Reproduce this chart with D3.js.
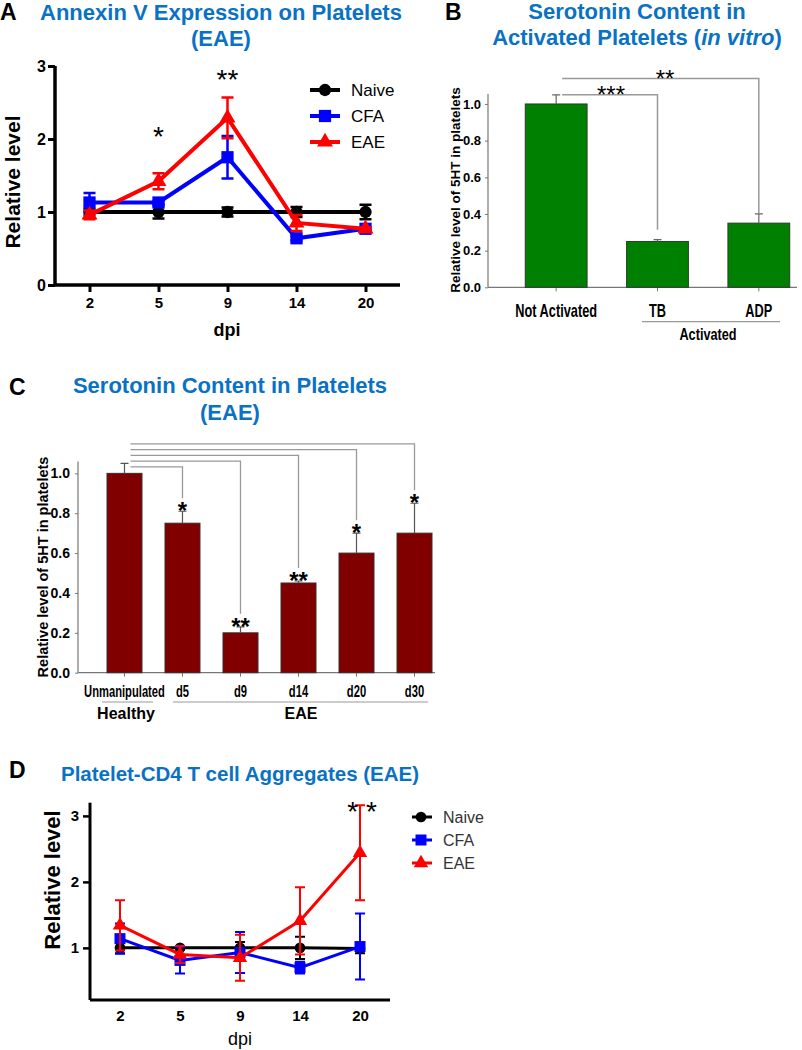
<!DOCTYPE html>
<html><head><meta charset="utf-8">
<script src="https://cdn.jsdelivr.net/npm/d3@7"></script>
<style>body{margin:0;background:#fff} svg{display:block}</style>
</head><body>
<svg id="c" width="802" height="1050"></svg>
<script>
// ---------- Panel A: Annexin V expression ----------
const dpi = ["2","5","9","14","20"];
const annexNaive = [1.00,1.00,1.00,1.00,1.00];
const annexNaiveErr = [0.04,0.09,0.06,0.07,0.10];
const annexCFA = [1.13,1.13,1.75,0.64,0.77];
const annexCFAErr = [0.13,0.02,0.29,0.03,0.02];
const annexEAE = [0.96,1.42,2.29,0.85,0.77];
const annexEAEErr = [0.06,0.11,0.28,0.11,0.02];
const annexStars = ["","*","**","",""];
const annexTicks = [0,1,2,3];

// ---------- Panel B: serotonin in vitro ----------
const vitroCats = ["Not Activated","TB","ADP"];
const vitroVals = [1.00,0.25,0.35];
const vitroErr = [0.05,0.01,0.05];
const vitroTicks = [0,0.2,0.4,0.6,0.8,1.0];
const vitroSigTo = ["TB","ADP"];
const vitroSigLabel = ["***","**"];

// ---------- Panel C: serotonin EAE ----------
const eaeCats = ["Unmanipulated","d5","d9","d14","d20","d30"];
const eaeVals = [1.00,0.75,0.20,0.45,0.60,0.70];
const eaeErr = [0.05,0.06,0.03,0.01,0.10,0.15];
const eaeStars = ["","*","**","**","*","*"];
const eaeTicks = [0,0.2,0.4,0.6,0.8,1.0];

// ---------- Panel D: platelet-CD4 aggregates ----------
const aggNaive = [1.00,1.00,1.00,1.00,0.99];
const aggNaiveErr = [0.08,0.03,0.09,0.17,0.07];
const aggCFA = [1.14,0.81,0.93,0.70,1.02];
const aggCFAErr = [0.23,0.20,0.31,0.09,0.50];
const aggEAE = [1.34,0.90,0.85,1.41,2.44];
const aggEAEErr = [0.38,0.13,0.35,0.51,0.72];
const aggStars = ["","","","","**"];
const aggTicks = [1,2,3];

const seriesNames = ["Naive","CFA","EAE"];
const seriesColors = ["#000000","#0000ff","#ff0000"];
const seriesSymbols = [d3.symbolCircle, d3.symbolSquare, d3.symbolTriangle];

const BLUE = "#0a72c4";
const SANS = "'Liberation Sans', Arial, sans-serif";

const svg = d3.select("#c");

function txt(g, x, y, s, o) {
  o = o || {};
  const t = g.append("text").text(s)
    .attr("font-family", SANS)
    .attr("font-size", o.size || 14)
    .attr("font-weight", o.weight || "bold")
    .attr("fill", o.fill || "#000")
    .attr("text-anchor", o.anchor || "middle");
  if (o.rotate) t.attr("x", x).attr("y", y).attr("transform", `rotate(-90,${x},${y})`);
  else if (o.squeeze) t.attr("x", 0).attr("y", 0).attr("transform", `translate(${x},${y}) scale(${o.squeeze},1)`);
  else t.attr("x", x).attr("y", y);
  return t;
}

// ============ PANEL A ============
(function(){
  const g = svg.append("g");
  const x = d3.scalePoint().domain(dpi).range([55, 400]).padding(0.5);
  const y = d3.scaleLinear().domain([0,3]).range([285, 66]);
  txt(g, 0, 20, "A", {size: 23, anchor: "start"});
  txt(g, 221, 20, "Annexin V Expression on Platelets", {size: 22, fill: BLUE});
  txt(g, 221, 46, "(EAE)", {size: 22, fill: BLUE});

  const ya = g.append("g").attr("transform","translate(55,0)")
    .call(d3.axisLeft(y).tickValues(annexTicks).tickFormat(d3.format("d")).tickSize(7).tickPadding(2));
  const xa = g.append("g").attr("transform","translate(0,285)")
    .call(d3.axisBottom(x).tickSize(7).tickPadding(5));
  [ya, xa].forEach(a => {
    a.select(".domain").attr("stroke","#000").attr("stroke-width",3.5);
    a.selectAll(".tick line").attr("stroke","#000").attr("stroke-width",3);
    a.selectAll("text").attr("font-family",SANS).attr("font-weight","bold").attr("fill","#000");
  });
  ya.selectAll("text").attr("font-size",16);
  xa.selectAll("text").attr("font-size",15);
  xa.select(".domain").attr("d","M55,0H400");
  ya.select(".domain").attr("d","M0,285V66");
  txt(g, 227, 336, "dpi", {size: 18});
  txt(g, 20, 182, "Relative level", {size: 21, rotate: true});

  const vals = [annexNaive, annexCFA, annexEAE];
  const errs = [annexNaiveErr, annexCFAErr, annexEAEErr];
  const sizes = [120, 150, 110];
  vals.forEach((v, si) => {
    const c = seriesColors[si];
    const gg = g.append("g");
    gg.append("path").datum(v)
      .attr("d", d3.line().x((d,i)=>x(dpi[i])).y(d=>y(d)))
      .attr("fill","none").attr("stroke",c).attr("stroke-width",4);
    v.forEach((d,i) => {
      const cx = x(dpi[i]), e = errs[si][i];
      gg.append("path").attr("d",`M${cx},${y(d-e)}V${y(d+e)}M${cx-6},${y(d+e)}H${cx+6}M${cx-6},${y(d-e)}H${cx+6}`)
        .attr("stroke",c).attr("stroke-width",2.5).attr("fill","none");
      gg.append("path").attr("d", d3.symbol(seriesSymbols[si], sizes[si])())
        .attr("transform",`translate(${cx},${y(d)})`).attr("fill",c);
    });
  });
  annexStars.forEach((s,i) => {
    if (!s) return;
    const top = annexEAE[i]+annexEAEErr[i];
    txt(g, x(dpi[i]), y(top) - (s.length>1 ? 8 : 27), s, {size: 28, weight: "normal"});
  });
  // legend
  seriesNames.forEach((n, si) => {
    const ly = 90 + si*26;
    g.append("line").attr("x1",310).attr("x2",340).attr("y1",ly).attr("y2",ly)
      .attr("stroke",seriesColors[si]).attr("stroke-width",4);
    g.append("path").attr("d", d3.symbol(seriesSymbols[si], sizes[si])())
      .attr("transform",`translate(325,${ly})`).attr("fill",seriesColors[si]);
    txt(g, 351, ly+6, n, {size: 17, weight: "normal", anchor: "start"});
  });
})();

// ============ PANEL B ============
(function(){
  const g = svg.append("g");
  const x = d3.scaleBand().domain(vitroCats).range([505, 810]).paddingInner(0.39).paddingOuter(0.2);
  const y = d3.scaleLinear().domain([0,1.05]).range([287.3, 94.8]);
  txt(g, 445, 20, "B", {size: 23, anchor: "start"});
  txt(g, 637, 19, "Serotonin Content in", {size: 22, fill: BLUE});
  const t2 = txt(g, 637, 45, "", {size: 22, fill: BLUE});
  t2.append("tspan").text("Activated Platelets (");
  t2.append("tspan").text("in vitro").attr("font-style","italic");
  t2.append("tspan").text(")");

  const ya = g.append("g").attr("transform","translate(488,0)")
    .call(d3.axisLeft(y).tickValues(vitroTicks).tickFormat(d3.format(".1f")).tickSize(3).tickPadding(4));
  const xa = g.append("g").attr("transform","translate(0,287.3)")
    .call(d3.axisBottom(x).tickSize(4).tickFormat(""));
  [ya, xa].forEach(a => {
    a.select(".domain").attr("stroke","#777").attr("stroke-width",1.2);
    a.selectAll(".tick line").attr("stroke","#777");
  });
  xa.select(".domain").attr("d","M488,0H797");
  ya.select(".domain").attr("d","M0,287.3V94");
  ya.selectAll("text").attr("font-family",SANS).attr("font-weight","bold").attr("font-size",13).attr("fill","#000");
  txt(g, 460, 190, "Relative level of 5HT in platelets", {size: 13.5, rotate: true});

  vitroCats.forEach((c,i) => {
    const cx = x(c) + x.bandwidth()/2;
    g.append("rect").attr("x", x(c)).attr("width", x.bandwidth())
      .attr("y", y(vitroVals[i])).attr("height", y(0)-y(vitroVals[i]))
      .attr("fill","#008000").attr("stroke","#2d3a2d").attr("stroke-width",1);
    const top = y(vitroVals[i]+vitroErr[i]);
    g.append("path").attr("d",`M${cx},${y(vitroVals[i])}V${top}M${cx-4},${top}H${cx+4}`)
      .attr("stroke","#666").attr("stroke-width",1.2);
    txt(g, cx, 317, c, {size: 18, squeeze: 0.71});
  });
  g.append("line").attr("x1",642).attr("x2",780).attr("y1",321.7).attr("y2",321.7).attr("stroke","#999").attr("stroke-width",1.2);
  txt(g, 708, 340, "Activated", {size: 16.5, squeeze: 0.77});

  // brackets
  const x0 = x(vitroCats[0]) + x.bandwidth()/2 + 6;
  vitroSigTo.forEach((to,k) => {
    const i = vitroCats.indexOf(to);
    const cx = x(to) + x.bandwidth()/2;
    const ly = y(vitroVals[0]+vitroErr[0]) - k*16.4;
    const end = y(vitroVals[i]+vitroErr[i]) - (k===0 ? 10 : 1);
    g.append("path").attr("d",`M${x0},${ly}H${cx}V${end}`).attr("fill","none").attr("stroke","#999").attr("stroke-width",1.5);
    txt(g, k===0 ? 611 : 665, ly + 8.5, vitroSigLabel[k], {size: 24, weight: "normal"});
  });
})();

// ============ PANEL C ============
(function(){
  const g = svg.append("g");
  const x = d3.scaleBand().domain(eaeCats).range([78, 461]).paddingInner(0.397).paddingOuter(0.5);
  const y = d3.scaleLinear().domain([0,1.06]).range([672.7, 461.4]);
  txt(g, 9, 395, "C", {size: 23, anchor: "start"});
  txt(g, 230, 393, "Serotonin Content in Platelets", {size: 22, fill: BLUE});
  txt(g, 230, 420, "(EAE)", {size: 22, fill: BLUE});

  const ya = g.append("g").attr("transform","translate(78,0)")
    .call(d3.axisLeft(y).tickValues(eaeTicks).tickFormat(d3.format(".1f")).tickSize(3).tickPadding(5));
  const xa = g.append("g").attr("transform","translate(0,672.7)")
    .call(d3.axisBottom(x).tickSize(4).tickFormat(""));
  [ya, xa].forEach(a => {
    a.select(".domain").attr("stroke","#777").attr("stroke-width",1.2);
    a.selectAll(".tick line").attr("stroke","#777");
  });
  xa.select(".domain").attr("d","M78,0H435");
  ya.select(".domain").attr("d","M0,672.7V461.4");
  ya.selectAll("text").attr("font-family",SANS).attr("font-weight","bold").attr("font-size",14).attr("fill","#000");
  txt(g, 48, 567, "Relative level of 5HT in platelets", {size: 14.5, rotate: true});

  eaeCats.forEach((c,i) => {
    const cx = x(c) + x.bandwidth()/2;
    g.append("rect").attr("x", x(c)).attr("width", x.bandwidth())
      .attr("y", y(eaeVals[i])).attr("height", y(0)-y(eaeVals[i]))
      .attr("fill","#800000").attr("stroke","#3a2a2a").attr("stroke-width",1);
    const top = y(eaeVals[i]+eaeErr[i]);
    g.append("path").attr("d",`M${cx},${y(eaeVals[i])}V${top}M${cx-4},${top}H${cx+4}`)
      .attr("stroke","#555").attr("stroke-width",1.2);
    txt(g, cx, 697, c, {size: 16, squeeze: 0.70});
  });
  g.append("line").attr("x1",102).attr("x2",153).attr("y1",702).attr("y2",702).attr("stroke","#999").attr("stroke-width",1.2);
  g.append("line").attr("x1",173).attr("x2",428).attr("y1",702).attr("y2",702).attr("stroke","#999").attr("stroke-width",1.2);
  txt(g, 126, 719, "Healthy", {size: 16});
  txt(g, 301, 719, "EAE", {size: 16});

  // brackets + stars
  const x0 = x(eaeCats[0]) + x.bandwidth()/2 + 6;
  const base = y(eaeVals[0] + 0.033);
  eaeCats.forEach((c,i) => {
    if (!eaeStars[i]) return;
    const cx = x(c) + x.bandwidth()/2;
    const errTop = y(eaeVals[i]+eaeErr[i]);
    const ly = base - (i-1)*5.75;
    g.append("path").attr("d",`M${x0},${ly}H${cx}V${errTop-13}`).attr("fill","none").attr("stroke","#999").attr("stroke-width",1.3);
    txt(g, cx, errTop + 8, eaeStars[i], {size: 24, weight: "bold"});
  });
})();

// ============ PANEL D ============
(function(){
  const g = svg.append("g");
  const x = d3.scalePoint().domain(dpi).range([90, 390]).padding(0.5);
  const y = d3.scaleLinear().domain([0.21,3.2]).range([1000, 802.7]);
  txt(g, 9, 778, "D", {size: 23, anchor: "start"});
  txt(g, 240, 781, "Platelet-CD4 T cell Aggregates (EAE)", {size: 20.5, fill: BLUE});

  const ya = g.append("g").attr("transform","translate(90,0)")
    .call(d3.axisLeft(y).tickValues(aggTicks).tickFormat(d3.format("d")).tickSize(7).tickPadding(4));
  const xa = g.append("g").attr("transform","translate(0,1000)")
    .call(d3.axisBottom(x).tickSize(0).tickPadding(10));
  [ya, xa].forEach(a => {
    a.select(".domain").attr("stroke","#000").attr("stroke-width",3);
    a.selectAll(".tick line").attr("stroke","#000").attr("stroke-width",2.5);
    a.selectAll("text").attr("font-family",SANS).attr("font-weight","bold").attr("font-size",15).attr("fill","#000");
  });
  xa.select(".domain").attr("d","M90,0H390");
  ya.select(".domain").attr("d","M0,1000V802.7");
  txt(g, 240, 1045, "dpi", {size: 18, weight: "normal"});
  txt(g, 60, 880, "Relative level", {size: 22, rotate: true});

  const vals = [aggNaive, aggCFA, aggEAE];
  const errs = [aggNaiveErr, aggCFAErr, aggEAEErr];
  const sizes = [90, 121, 90];
  vals.forEach((v, si) => {
    const c = seriesColors[si];
    const gg = g.append("g");
    gg.append("path").datum(v)
      .attr("d", d3.line().x((d,i)=>x(dpi[i])).y(d=>y(d)))
      .attr("fill","none").attr("stroke",c).attr("stroke-width",3);
    v.forEach((d,i) => {
      const cx = x(dpi[i]), e = errs[si][i];
      gg.append("path").attr("d",`M${cx},${y(d-e)}V${y(d+e)}M${cx-5},${y(d+e)}H${cx+5}M${cx-5},${y(d-e)}H${cx+5}`)
        .attr("stroke",c).attr("stroke-width",2).attr("fill","none");
      gg.append("path").attr("d", d3.symbol(seriesSymbols[si], sizes[si])())
        .attr("transform",`translate(${cx},${y(d)})`).attr("fill",c);
    });
  });
  aggStars.forEach((s,i) => {
    if (!s) return;
    txt(g, x(dpi[i]) + 2, y(aggEAE[i]+aggEAEErr[i]) + 16, s.split("").join(" "), {size: 28, weight: "normal"});
  });
  seriesNames.forEach((n, si) => {
    const ly = 817 + si*23;
    g.append("line").attr("x1",412).attr("x2",432).attr("y1",ly).attr("y2",ly)
      .attr("stroke",seriesColors[si]).attr("stroke-width",3);
    g.append("path").attr("d", d3.symbol(seriesSymbols[si], sizes[si])())
      .attr("transform",`translate(421,${ly})`).attr("fill",seriesColors[si]);
    txt(g, 443, ly+6, n, {size: 16, weight: "normal", anchor: "start", fill: "#333"});
  });
})();
</script>
</body></html>
